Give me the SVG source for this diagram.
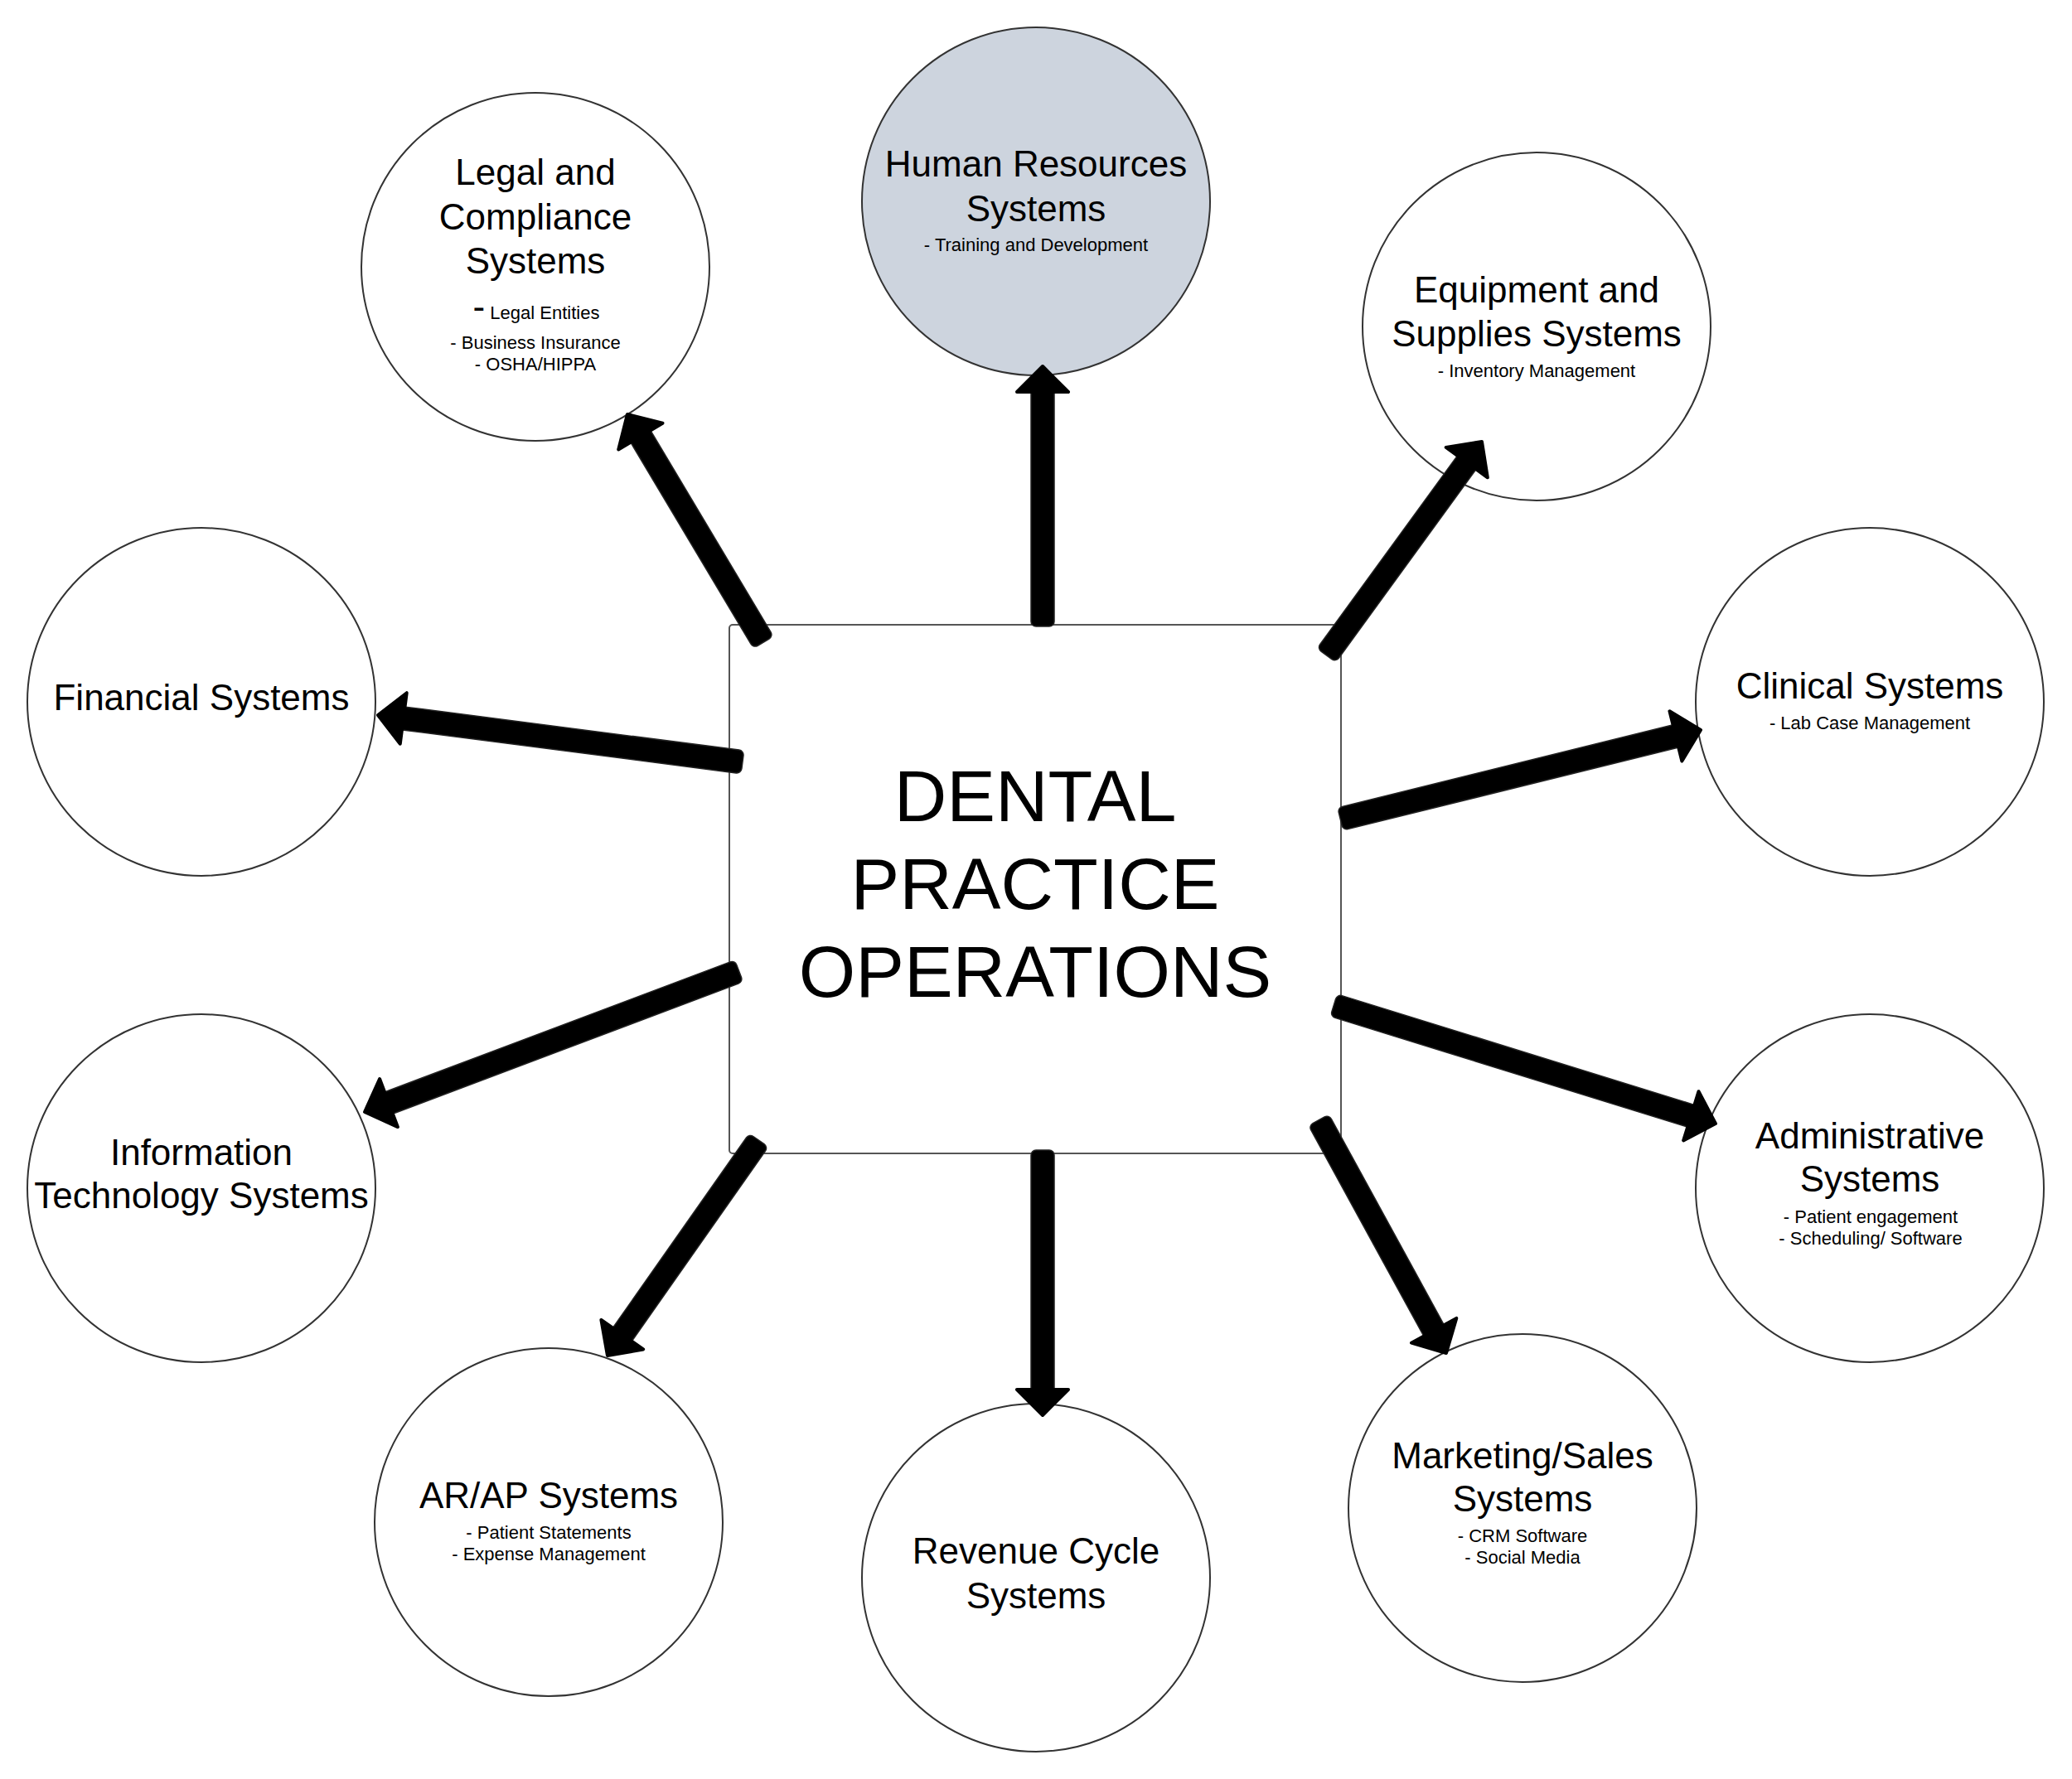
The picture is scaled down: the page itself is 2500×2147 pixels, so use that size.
<svg xmlns="http://www.w3.org/2000/svg" xmlns:xlink="http://www.w3.org/1999/xlink" width="2500" height="2147" viewBox="0 0 2500 2147">
  <style>
    .bg { fill: #ffffff; }
    .node { fill: #ffffff; stroke: #333333; stroke-width: 2; }
    .hr { fill: #cdd4de; }
    .center { fill: #ffffff; stroke: #555555; stroke-width: 2; }
    text { font-family: "Liberation Sans", Arial, sans-serif; fill: #000000; text-anchor: middle; }
    .title { font-size: 44px; }
    .sub { font-size: 22px; }
    .big { font-size: 88px; }
    .shaft { fill: #000000; stroke: #222222; stroke-width: 1.5; }
  </style>
  <defs>
    <path id="head" d="M-31,-31 L0,0 L-31,31 Z" fill="#000000" stroke="#000000" stroke-width="4" stroke-linejoin="round"/>
  </defs>
  <rect class="bg" x="0" y="0" width="2500" height="2147"/>

  <g id="center">
    <rect class="center" x="880" y="754" width="738" height="638" rx="4"/>
    <text class="big" x="1249" y="991">DENTAL</text>
    <text class="big" x="1249" y="1097">PRACTICE</text>
    <text class="big" x="1249" y="1203">OPERATIONS</text>
  </g>

  <g id="legal">
    <circle class="node" cx="646" cy="322" r="210"/>
    <text class="title" x="646" y="223">Legal and</text>
    <text class="title" x="646" y="277">Compliance</text>
    <text class="title" x="646" y="330">Systems</text>
    <text x="647" y="385"><tspan font-size="44">-</tspan><tspan font-size="22"> Legal Entities</tspan></text>
    <text class="sub" x="646" y="421">- Business Insurance</text>
    <text class="sub" x="646" y="447">- OSHA/HIPPA</text>
  </g>

  <g id="hr">
    <circle class="node hr" cx="1250" cy="243" r="210"/>
    <text class="title" x="1250" y="213">Human Resources</text>
    <text class="title" x="1250" y="267">Systems</text>
    <text class="sub" x="1250" y="303">- Training and Development</text>
  </g>

  <g id="equipment">
    <circle class="node" cx="1854" cy="394" r="210"/>
    <text class="title" x="1854" y="365">Equipment and</text>
    <text class="title" x="1854" y="418">Supplies Systems</text>
    <text class="sub" x="1854" y="455">- Inventory Management</text>
  </g>

  <g id="clinical">
    <circle class="node" cx="2256" cy="847" r="210"/>
    <text class="title" x="2256" y="843">Clinical Systems</text>
    <text class="sub" x="2256" y="880">- Lab Case Management</text>
  </g>

  <g id="financial">
    <circle class="node" cx="243" cy="847" r="210"/>
    <text class="title" x="243" y="857">Financial Systems</text>
  </g>

  <g id="it">
    <circle class="node" cx="243" cy="1434" r="210"/>
    <text class="title" x="243" y="1406">Information</text>
    <text class="title" x="243" y="1458">Technology Systems</text>
  </g>

  <g id="administrative">
    <circle class="node" cx="2256" cy="1434" r="210"/>
    <text class="title" x="2256" y="1386">Administrative</text>
    <text class="title" x="2256" y="1438">Systems</text>
    <text class="sub" x="2257" y="1476">- Patient engagement</text>
    <text class="sub" x="2257" y="1502">- Scheduling/ Software</text>
  </g>

  <g id="arap">
    <circle class="node" cx="662" cy="1837" r="210"/>
    <text class="title" x="662" y="1820">AR/AP Systems</text>
    <text class="sub" x="662" y="1857">- Patient Statements</text>
    <text class="sub" x="662" y="1883">- Expense Management</text>
  </g>

  <g id="revenue">
    <circle class="node" cx="1250" cy="1904" r="210"/>
    <text class="title" x="1250" y="1887">Revenue Cycle</text>
    <text class="title" x="1250" y="1941">Systems</text>
  </g>

  <g id="marketing">
    <circle class="node" cx="1837" cy="1820" r="210"/>
    <text class="title" x="1837" y="1772">Marketing/Sales</text>
    <text class="title" x="1837" y="1824">Systems</text>
    <text class="sub" x="1837" y="1861">- CRM Software</text>
    <text class="sub" x="1837" y="1887">- Social Media</text>
  </g>

  <g id="connectors">
    <g transform="translate(918,770) rotate(-120.81)">
      <rect class="shaft" x="-6" y="-14" width="294" height="28" rx="6"/>
      <use xlink:href="#head" href="#head" transform="translate(314.4,0)"/>
    </g>
    <g transform="translate(1258,752) rotate(-90)">
      <rect class="shaft" x="-4" y="-14" width="288" height="28" rx="6"/>
      <use xlink:href="#head" href="#head" transform="translate(310,0)"/>
    </g>
    <g transform="translate(1604,786) rotate(-53.97)">
      <rect class="shaft" x="-6" y="-14" width="292" height="28" rx="6"/>
      <use xlink:href="#head" href="#head" transform="translate(312.8,0)"/>
    </g>
    <g transform="translate(1623,987) rotate(-13.88)">
      <rect class="shaft" x="-6" y="-14" width="422" height="28" rx="6"/>
      <use xlink:href="#head" href="#head" transform="translate(441.9,0)"/>
    </g>
    <g transform="translate(890,919) rotate(-172.65)">
      <rect class="shaft" x="-6" y="-14" width="418" height="28" rx="6"/>
      <use xlink:href="#head" href="#head" transform="translate(437.6,0)"/>
    </g>
    <g transform="translate(886,1174) rotate(159.36)">
      <rect class="shaft" x="-6" y="-14" width="457" height="28" rx="6"/>
      <use xlink:href="#head" href="#head" transform="translate(476.6,0)"/>
    </g>
    <g transform="translate(1615,1215) rotate(17.22)">
      <rect class="shaft" x="-6" y="-14" width="457" height="28" rx="6"/>
      <use xlink:href="#head" href="#head" transform="translate(476.3,0)"/>
    </g>
    <g transform="translate(912,1381) rotate(125.07)">
      <rect class="shaft" x="-6" y="-14" width="292" height="28" rx="6"/>
      <use xlink:href="#head" href="#head" transform="translate(311.6,0)"/>
    </g>
    <g transform="translate(1258,1394) rotate(90)">
      <rect class="shaft" x="-6" y="-14" width="294" height="28" rx="6"/>
      <use xlink:href="#head" href="#head" transform="translate(314,0)"/>
    </g>
    <g transform="translate(1594,1357) rotate(61.32)">
      <rect class="shaft" x="-6" y="-14" width="295" height="28" rx="6"/>
      <use xlink:href="#head" href="#head" transform="translate(314.6,0)"/>
    </g>
  </g>
</svg>
